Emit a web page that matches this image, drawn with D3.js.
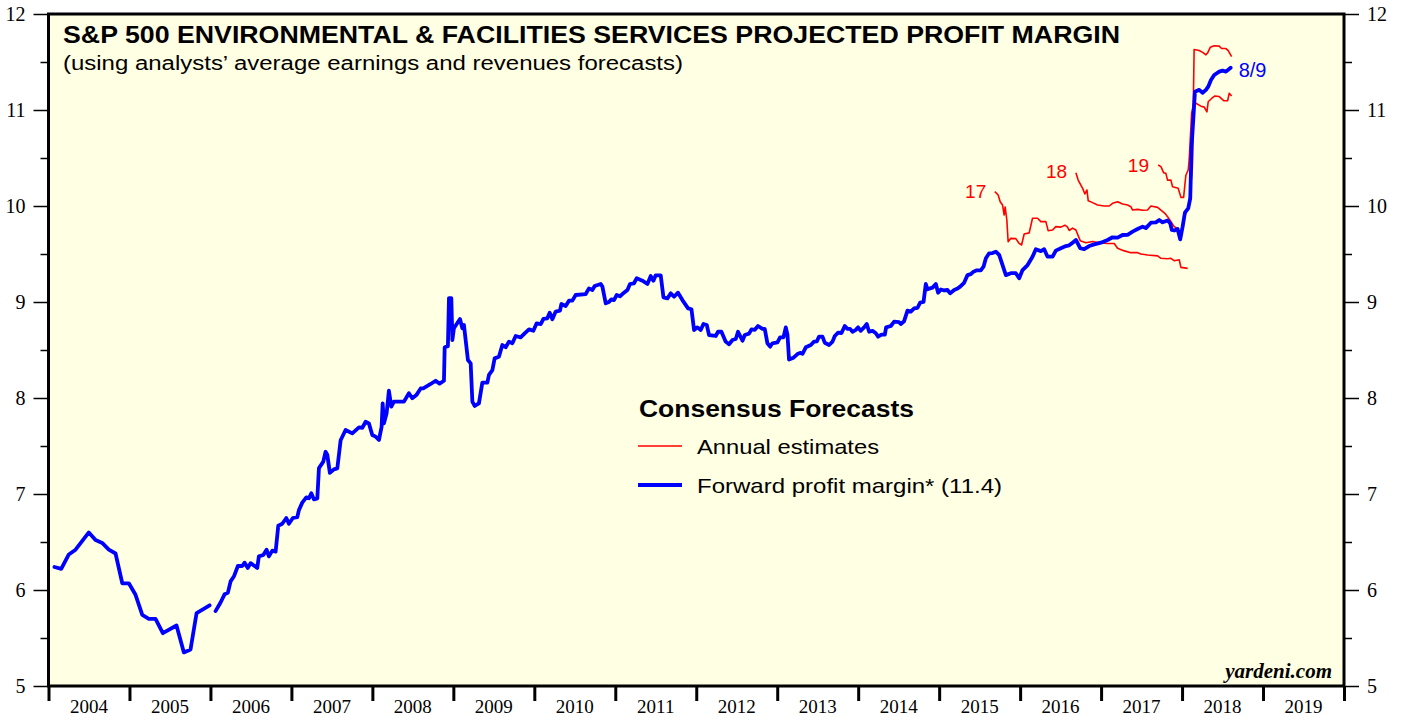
<!DOCTYPE html>
<html><head><meta charset="utf-8">
<script src="https://cdn.jsdelivr.net/npm/d3@7/dist/d3.min.js"></script>
<style>body{margin:0;background:#fff}svg{display:block}</style>
</head><body>
<svg id="chart" width="1403" height="717"></svg>
<script>
// ---- data (decimal years, profit margin %) ----
const fwdYears = [2004.074,2004.157,2004.251,2004.334,2004.498,2004.581,2004.663,2004.745,2004.828,2004.911,2004.992,2005.075,2005.158,2005.239,2005.322,2005.412,2005.581,2005.672,2005.754,2005.829,2005.99,
2006.03,
2006.063,2006.125,2006.174,2006.215,2006.249,2006.289,2006.339,2006.393,2006.422,2006.462,2006.496,2006.578,2006.598,2006.653,2006.693,2006.722,2006.764,2006.805,2006.838,2006.887,2006.937,2006.969,2007.018,2007.073,2007.092,2007.134,2007.184,2007.216,2007.246,2007.278,2007.320,2007.340,2007.394,2007.422,2007.443,2007.475,2007.525,2007.567,2007.608,2007.669,2007.752,2007.834,2007.876,2007.917,2007.957,2007.999,2008.040,2008.081,2008.114,2008.127,2008.143,2008.176,2008.204,2008.234,2008.266,2008.390,2008.451,2008.493,2008.543,2008.596,2008.629,2008.720,2008.781,2008.830,2008.884,2008.893,2008.933,2008.946,2008.975,2008.988,2009.007,2009.082,2009.111,2009.131,2009.152,2009.180,2009.214,2009.235,2009.263,2009.316,2009.358,2009.420,2009.440,2009.482,2009.510,2009.563,2009.605,2009.646,2009.687,2009.729,2009.770,2009.831,2009.881,2009.934,2009.988,2010.029,2010.079,2010.112,2010.161,2010.190,2010.223,2010.264,2010.317,2010.334,2010.387,2010.428,2010.470,2010.511,2010.635,2010.675,2010.717,2010.746,2010.820,2010.841,2010.882,2010.922,2010.952,2010.984,2011.018,2011.058,2011.088,2011.150,2011.182,2011.231,2011.265,2011.335,2011.397,2011.438,2011.471,2011.499,2011.561,2011.595,2011.644,2011.685,2011.726,2011.775,2011.829,2011.899,2011.941,2011.973,2012.015,2012.055,2012.089,2012.130,2012.158,2012.241,2012.269,2012.311,2012.364,2012.405,2012.447,2012.488,2012.516,2012.571,2012.599,2012.652,2012.682,2012.723,2012.763,2012.818,2012.846,2012.879,2012.912,2012.941,2013.003,2013.035,2013.077,2013.106,2013.127,2013.146,2013.201,2013.250,2013.282,2013.312,2013.353,2013.415,2013.455,2013.489,2013.517,2013.559,2013.587,2013.641,2013.683,2013.711,2013.752,2013.794,2013.834,2013.868,2013.900,2013.930,2013.970,2013.999,2014.032,2014.073,2014.106,2014.135,2014.177,2014.218,2014.246,2014.288,2014.329,2014.345,2014.403,2014.444,2014.505,2014.526,2014.567,2014.609,2014.650,2014.691,2014.733,2014.765,2014.807,2014.835,2014.856,2014.918,2014.959,2014.987,2015.021,2015.061,2015.103,2015.136,2015.185,2015.227,2015.259,2015.308,2015.350,2015.391,2015.424,2015.465,2015.514,2015.548,2015.577,2015.617,2015.659,2015.700,2015.741,2015.783,2015.824,2015.885,2015.947,2015.988,2016.030,2016.092,2016.153,2016.194,2016.256,2016.297,2016.339,2016.401,2016.441,2016.503,2016.565,2016.606,2016.648,2016.689,2016.742,2016.791,2016.853,2016.915,2016.998,2017.080,2017.142,2017.204,2017.265,2017.327,2017.389,2017.451,2017.513,2017.553,2017.615,2017.677,2017.718,2017.760,2017.821,2017.853,2017.874,2017.903,2017.945,2017.977,2018.007,2018.035,2018.076,2018.101,2018.118,2018.143,2018.159,2018.212,2018.254,2018.295,2018.323,2018.357,2018.397,2018.459,2018.501,2018.542,2018.600];
const fwdValues = [6.24,6.22,6.37,6.42,6.60,6.52,6.49,6.42,6.38,6.07,6.07,5.95,5.74,5.70,5.70,5.55,5.63,5.35,5.38,5.76,5.84,
null,
5.78,5.87,5.955,5.97,6.09,6.14,6.25,6.25,6.285,6.23,6.28,6.23,6.35,6.365,6.42,6.35,6.41,6.40,6.67,6.69,6.75,6.69,6.75,6.76,6.83,6.91,6.965,6.955,7.007,6.944,6.955,7.27,7.337,7.44,7.41,7.22,7.257,7.267,7.56,7.667,7.632,7.694,7.69,7.753,7.736,7.615,7.597,7.5625,7.70,7.944,7.736,7.84,8.076,7.91,7.962,7.962,8.05,7.997,8.03,8.10,8.10,8.146,8.18,8.15,8.18,8.528,8.54,9.04,9.04,8.604,8.726,8.823,8.726,8.76,8.604,8.396,8.36,7.962,7.917,7.944,8.16,8.16,8.24,8.29,8.413,8.43,8.552,8.528,8.587,8.57,8.646,8.632,8.674,8.715,8.70,8.778,8.77,8.823,8.83,8.889,8.82,8.90,8.91,8.979,8.958,9.014,9.014,9.073,9.083,9.142,9.125,9.167,9.1875,9.16,8.986,9.00,9.028,9.02,9.073,9.06,9.083,9.125,9.1875,9.195,9.247,9.222,9.1875,9.27,9.222,9.278,9.278,9.049,9.038,9.09,9.055,9.097,9.02,8.934,8.924,8.708,8.736,8.708,8.771,8.76,8.656,8.646,8.69,8.69,8.587,8.559,8.604,8.615,8.69,8.597,8.656,8.67,8.715,8.71,8.75,8.72,8.72,8.57,8.535,8.57,8.58,8.632,8.632,8.736,8.656,8.40,8.42,8.458,8.47,8.46,8.528,8.552,8.587,8.59,8.639,8.639,8.576,8.552,8.587,8.646,8.68,8.677,8.75,8.72,8.72,8.69,8.71,8.736,8.70,8.736,8.771,8.69,8.70,8.674,8.639,8.66,8.66,8.736,8.75,8.795,8.79,8.77,8.80,8.91,8.90,8.934,8.94,8.993,9.00,9.1875,9.132,9.15,9.1875,9.097,9.13,9.12,9.125,9.09,9.125,9.14,9.16,9.20,9.28,9.29,9.316,9.33,9.33,9.368,9.455,9.507,9.51,9.524,9.49,9.385,9.28,9.30,9.30,9.247,9.333,9.385,9.472,9.549,9.53,9.55,9.472,9.472,9.535,9.56,9.583,9.59,9.618,9.646,9.56,9.55,9.583,9.60,9.618,9.646,9.674,9.67,9.698,9.70,9.733,9.76,9.785,9.77,9.826,9.83,9.854,9.83,9.85,9.82,9.75,9.745,9.76,9.653,9.785,9.93,9.976,10.08,10.62,10.965,11.19,11.21,11.18,11.21,11.243,11.3125,11.365,11.40,11.41,11.40,11.44];

const est17Years = [2015.688,2015.729,2015.754,2015.783,2015.803,2015.815,2015.836,2015.852,2015.885,2015.947,2015.988,2016.018,2016.050,2016.112,2016.153,2016.215,2016.256,2016.318,2016.346,2016.401,2016.441,2016.503,2016.553,2016.586,2016.606,2016.648,2016.689,2016.742,2016.812,2016.895,2016.977,2017.080,2017.162,2017.204,2017.278,2017.368,2017.451,2017.491,2017.574,2017.698,2017.739,2017.821,2017.862,2017.903,2017.965,2017.986,2018.069];
const est17Values = [10.15,10.115,10.045,10.01,9.906,9.99,9.854,9.628,9.663,9.66,9.61,9.594,9.708,9.72,9.872,9.872,9.837,9.837,9.743,9.75,9.785,9.78,9.80,9.78,9.745,9.77,9.75,9.639,9.618,9.63,9.618,9.61,9.61,9.56,9.535,9.514,9.514,9.50,9.49,9.48,9.455,9.45,9.455,9.43,9.44,9.361,9.35];

const est18Years = [2016.689,2016.717,2016.742,2016.772,2016.800,2016.825,2016.841,2016.895,2016.957,2017.039,2017.101,2017.142,2017.204,2017.265,2017.327,2017.368,2017.389,2017.451,2017.513,2017.574,2017.615,2017.698,2017.739,2017.788,2017.821,2017.853,2017.898,2017.947,2017.986,2018.035,2018.084,2018.127,2018.149,2018.211,2018.254,2018.295,2018.319,2018.348,2018.397,2018.459,2018.488,2018.542,2018.570,2018.612];
const est18Values = [10.347,10.27,10.23,10.184,10.125,10.167,10.055,10.035,10.01,10.00,10.00,10.028,10.045,10.02,10.01,9.993,9.958,9.965,9.955,9.958,10.00,9.986,9.958,9.924,9.889,9.85,9.79,9.76,9.70,9.90,10.00,10.40,11.63,11.62,11.60,11.575,11.60,11.653,11.67,11.665,11.64,11.64,11.618,11.555];

const est19Years = [2017.705,2017.739,2017.772,2017.800,2017.821,2017.862,2017.883,2017.952,2017.986,2018.019,2018.047,2018.076,2018.088,2018.118,2018.143,2018.171,2018.233,2018.274,2018.307,2018.323,2018.365,2018.406,2018.459,2018.514,2018.563,2018.583,2018.612];
const est19Values = [10.427,10.41,10.347,10.34,10.27,10.27,10.2,10.184,10.09,10.09,10.32,10.375,10.48,10.965,11.07,11.07,11.04,11.03,10.98,11.086,11.12,11.146,11.14,11.097,11.097,11.174,11.146];

const yearLabels = ["2004","2005","2006","2007","2008","2009","2010","2011","2012","2013","2014","2015","2016","2017","2018","2019"];
const yTicks = [5,6,7,8,9,10,11,12];
const yMinorTicks = [5.5,6.5,7.5,8.5,9.5,10.5,11.5];
const estLabels = [{t:"17",yr:2015.32,v:10.08},{t:"18",yr:2016.32,v:10.29},{t:"19",yr:2017.33,v:10.35}];
const titleText = "S&P 500 ENVIRONMENTAL & FACILITIES SERVICES PROJECTED PROFIT MARGIN";
const subtitleText = "(using analysts\u2019 average earnings and revenues forecasts)";
const legendTitle = "Consensus Forecasts";
const legendItems = ["Annual estimates","Forward profit margin* (11.4)"];
const lastDateLabel = "8/9";

// ---- layout ----
const L = 48.5, R = 1344, T = 14, B = 686;
const svg = d3.select("#chart");
const x = d3.scaleLinear().domain([2004, 2020]).range([L, R]);
const y = d3.scaleLinear().domain([5, 12]).range([B, T]);
const sans = "'Liberation Sans', Arial, Helvetica, sans-serif";
const serif = "'Liberation Serif', 'Times New Roman', serif";

svg.append("rect").attr("x", L).attr("y", T).attr("width", R - L).attr("height", B - T).attr("fill", "#FFFFE3");

svg.append("clipPath").attr("id","clip").append("rect").attr("x",L).attr("y",T).attr("width",R-L).attr("height",B-T);
const g = svg.append("g").attr("clip-path","url(#clip)");

const line = d3.line().defined(d => d[1] !== null).x(d => x(d[0])).y(d => y(d[1]));
const zip = (a, b) => a.map((v, i) => [v, b[i]]);

[[est17Years, est17Values],[est18Years, est18Values],[est19Years, est19Values]].forEach(([a,b]) => {
  g.append("path").datum(zip(a,b)).attr("d", line).attr("fill","none").attr("stroke","#FF0000").attr("stroke-width",1.6).attr("stroke-linejoin","round");
});
g.append("path").datum(zip(fwdYears, fwdValues)).attr("d", line).attr("fill","none").attr("stroke","#0000FF").attr("stroke-width",3.8).attr("stroke-linejoin","round").attr("stroke-linecap","round");

// frame
svg.append("rect").attr("x", L).attr("y", T).attr("width", R - L).attr("height", B - T).attr("fill","none").attr("stroke","#000").attr("stroke-width",3);

// y axes
function styleAxis(sel){ sel.select(".domain").remove(); sel.selectAll("line").attr("stroke","#000").attr("stroke-width",1.5); sel.selectAll("text").attr("font-family",serif).attr("font-size",20).attr("fill","#000"); }
svg.append("g").attr("transform",`translate(${L-1},0)`).call(d3.axisLeft(y).tickValues(yTicks).tickSize(14).tickPadding(8).tickFormat(d3.format("d"))).call(styleAxis);
svg.append("g").attr("transform",`translate(${L-1},0)`).call(d3.axisLeft(y).tickValues(yMinorTicks).tickSize(7).tickFormat("")).call(styleAxis);
svg.append("g").attr("transform",`translate(${R+1},0)`).call(d3.axisRight(y).tickValues(yTicks).tickSize(14).tickPadding(8).tickFormat(d3.format("d"))).call(styleAxis);
svg.append("g").attr("transform",`translate(${R+1},0)`).call(d3.axisRight(y).tickValues(yMinorTicks).tickSize(7).tickFormat("")).call(styleAxis);

// x axis
const xb = svg.append("g").attr("transform",`translate(0,${B+1})`).call(d3.axisBottom(x).tickValues(d3.range(2004, 2021)).tickSize(14).tickFormat(""));
xb.select(".domain").remove();
xb.selectAll("line").attr("stroke","#000").attr("stroke-width",3);
svg.append("g").selectAll("text").data(yearLabels).join("text")
  .attr("x", d => x(+d + 0.5)).attr("y", 713).attr("text-anchor","middle")
  .attr("font-family", serif).attr("font-size", 19).attr("fill","#000").text(d => d);

// titles
svg.append("text").attr("x",63).attr("y",42.5).attr("font-family",sans).attr("font-weight","bold").attr("font-size",23)
  .attr("textLength",1057).attr("lengthAdjust","spacingAndGlyphs").text(titleText);
svg.append("text").attr("x",63).attr("y",69.5).attr("font-family",sans).attr("font-size",20)
  .attr("textLength",620).attr("lengthAdjust","spacingAndGlyphs").text(subtitleText);

// legend
svg.append("text").attr("x",639).attr("y",417).attr("font-family",sans).attr("font-weight","bold").attr("font-size",23)
  .attr("textLength",275).attr("lengthAdjust","spacingAndGlyphs").text(legendTitle);
svg.append("line").attr("x1",638).attr("x2",682).attr("y1",446).attr("y2",446).attr("stroke","#FF0000").attr("stroke-width",1.6);
svg.append("line").attr("x1",638).attr("x2",682).attr("y1",485).attr("y2",485).attr("stroke","#0000FF").attr("stroke-width",3.8);
svg.append("text").attr("x",697).attr("y",454).attr("font-family",sans).attr("font-size",21)
  .attr("textLength",182).attr("lengthAdjust","spacingAndGlyphs").text(legendItems[0]);
svg.append("text").attr("x",697).attr("y",493).attr("font-family",sans).attr("font-size",21)
  .attr("textLength",305).attr("lengthAdjust","spacingAndGlyphs").text(legendItems[1]);

// annotations
svg.append("g").selectAll("text").data(estLabels).join("text")
  .attr("x", d => x(d.yr)).attr("y", d => y(d.v)).attr("font-family",sans).attr("font-size",19).attr("fill","#FF0000").text(d => d.t);
svg.append("text").attr("x", x(fwdYears[fwdYears.length-1]) + 8).attr("y", y(fwdValues[fwdValues.length-1]) + 9)
  .attr("font-family",sans).attr("font-size",20).attr("fill","#0000FF").text(lastDateLabel);

svg.append("text").attr("x",1332).attr("y",678).attr("text-anchor","end").attr("font-family",serif)
  .attr("font-weight","bold").attr("font-style","italic").attr("font-size",21).text("yardeni.com");
</script>
</body></html>
